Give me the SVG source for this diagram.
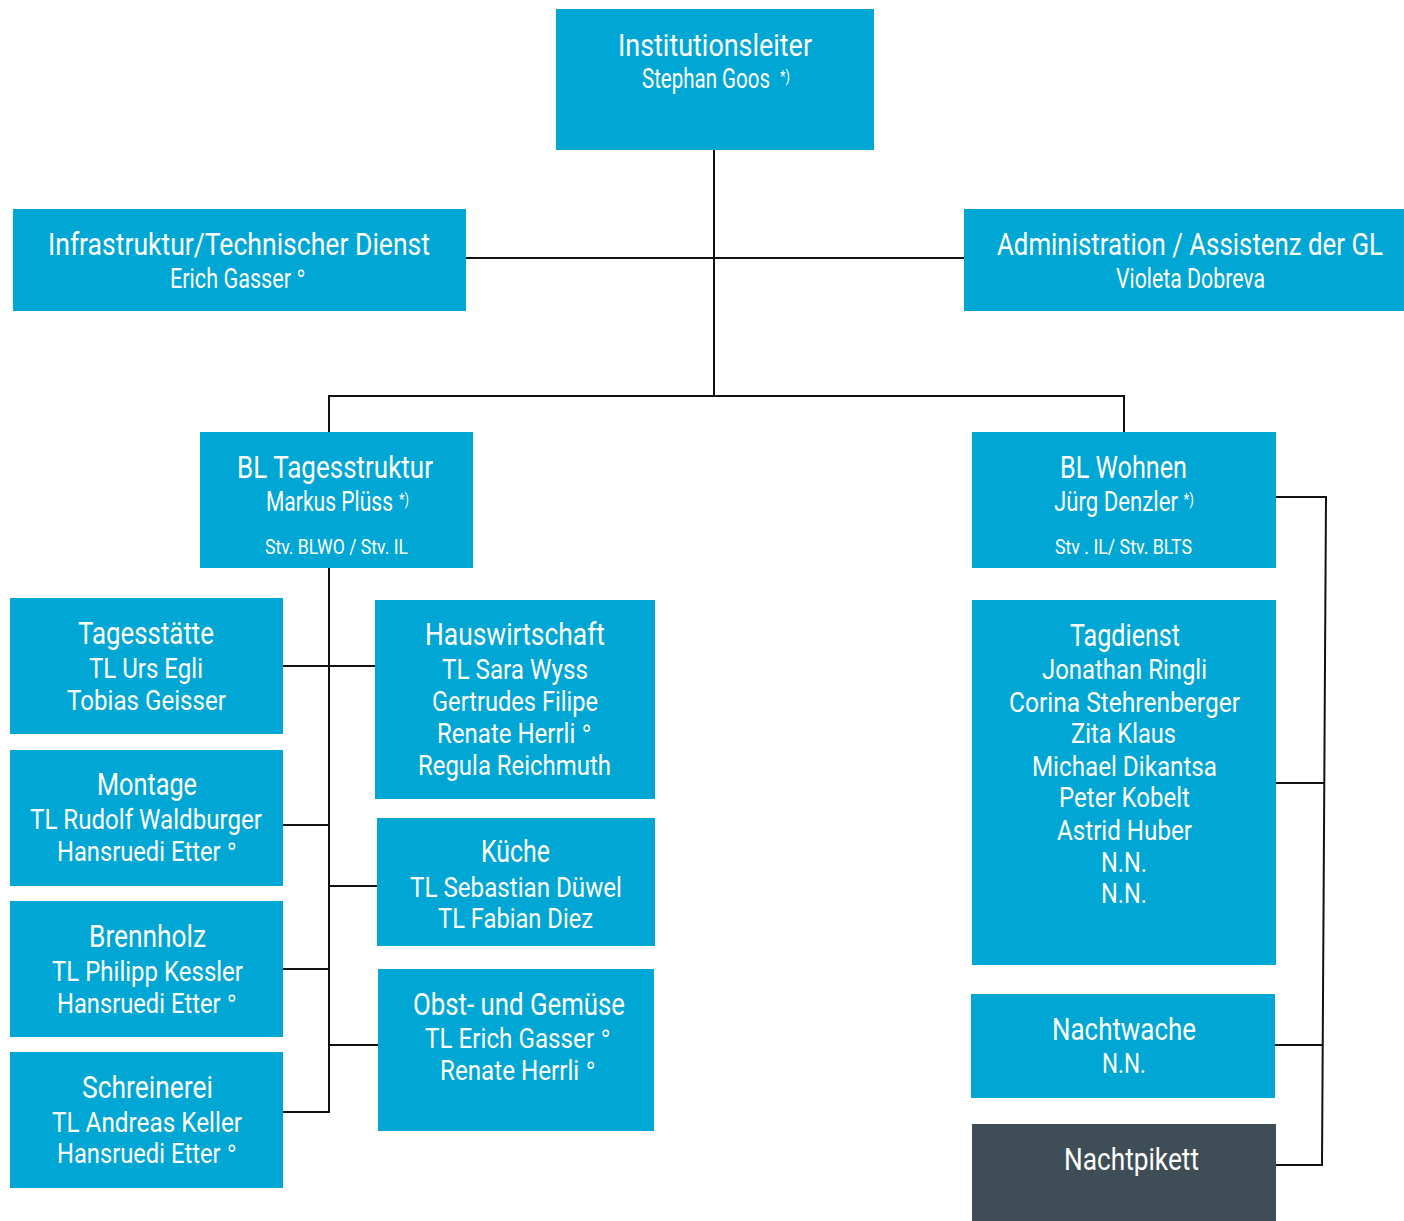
<svg xmlns="http://www.w3.org/2000/svg" width="1404" height="1221" viewBox="0 0 1404 1221">
<style>
.box{fill:#00A7D4}
.dark{fill:#3E4D56}
text{font-family:Roboto,"Liberation Sans",sans-serif;fill:#ffffff;font-weight:normal}
.t{font-size:31px}
.b{font-size:28px}
.s{font-size:21px}
.sup{font-size:17px}
.deg{font-family:"DejaVu Sans",sans-serif;font-size:25px}
.con line,.con polyline{stroke:#111;stroke-width:2;fill:none}
</style>
<g class="con" id="connectors">
<line x1="714" y1="150" x2="714" y2="397"/>
<line x1="466" y1="258" x2="964" y2="258"/>
<polyline points="329,432 329,396 1124,396 1124,432"/>
<line x1="329" y1="568" x2="329" y2="1113"/>
<line x1="283" y1="666" x2="375" y2="666"/>
<line x1="283" y1="825" x2="329" y2="825"/>
<line x1="329" y1="886" x2="377" y2="886"/>
<line x1="283" y1="969" x2="329" y2="969"/>
<line x1="329" y1="1045" x2="378" y2="1045"/>
<line x1="283" y1="1112" x2="330" y2="1112"/>
<polyline points="1276,497 1326,497 1322,1165 1276,1165"/>
<line x1="1274" y1="783" x2="1324" y2="783"/>
<line x1="1275" y1="1045" x2="1323" y2="1045"/>
</g>
<g id="institutionsleiter">
<rect class="box" x="556" y="9" width="318" height="141"/>
<text class="t" transform="translate(618,0) scale(0.8,1)" x="0" y="56" textLength="242.5" lengthAdjust="spacingAndGlyphs">Institutionsleiter</text>
<text class="b" transform="translate(642,0) scale(0.8,1)" x="0" y="88" textLength="160" lengthAdjust="spacingAndGlyphs">Stephan Goos</text>
<text class="sup" transform="translate(780,0) scale(0.8,1)" x="0" y="82" textLength="12.5" lengthAdjust="spacingAndGlyphs">*)</text>
</g>
<g id="infrastruktur">
<rect class="box" x="13" y="209" width="453" height="102"/>
<text class="t" transform="translate(48,0) scale(0.8,1)" x="0" y="255" textLength="477.5" lengthAdjust="spacingAndGlyphs">Infrastruktur/Technischer Dienst</text>
<text class="b" transform="translate(170,0) scale(0.8,1)" x="0" y="288" textLength="151.25" lengthAdjust="spacingAndGlyphs">Erich Gasser</text>
<text class="deg" transform="translate(296,0) scale(0.8,1)" x="0" y="288">°</text>
</g>
<g id="administration">
<rect class="box" x="964" y="209" width="440" height="102"/>
<text class="t" transform="translate(997,0) scale(0.8,1)" x="0" y="255" textLength="482.5" lengthAdjust="spacingAndGlyphs">Administration / Assistenz der GL</text>
<text class="b" transform="translate(1116,0) scale(0.8,1)" x="0" y="288" textLength="186.25" lengthAdjust="spacingAndGlyphs">Violeta Dobreva</text>
</g>
<g id="bl-tagesstruktur">
<rect class="box" x="200" y="432" width="273" height="136"/>
<text class="t" transform="translate(237,0) scale(0.8,1)" x="0" y="478" textLength="245" lengthAdjust="spacingAndGlyphs">BL Tagesstruktur</text>
<text class="b" transform="translate(266,0) scale(0.8,1)" x="0" y="511" textLength="158.75" lengthAdjust="spacingAndGlyphs">Markus Plüss</text>
<text class="sup" transform="translate(399,0) scale(0.8,1)" x="0" y="505" textLength="12.5" lengthAdjust="spacingAndGlyphs">*)</text>
<text class="s" transform="translate(265,0) scale(0.8,1)" x="0" y="554" textLength="178.75" lengthAdjust="spacingAndGlyphs">Stv. BLWO / Stv. IL</text>
</g>
<g id="bl-wohnen">
<rect class="box" x="972" y="432" width="304" height="136"/>
<text class="t" transform="translate(1060,0) scale(0.8,1)" x="0" y="478" textLength="158.75" lengthAdjust="spacingAndGlyphs">BL Wohnen</text>
<text class="b" transform="translate(1054,0) scale(0.8,1)" x="0" y="511" textLength="175" lengthAdjust="spacingAndGlyphs">Jürg Denzler <tspan class="sup" dy="-6">*)</tspan></text>
<text class="s" transform="translate(1055,0) scale(0.8,1)" x="0" y="554" textLength="171.25" lengthAdjust="spacingAndGlyphs">Stv . IL/ Stv. BLTS</text>
</g>
<g id="tagesstaette">
<rect class="box" x="10" y="598" width="273" height="136"/>
<text class="t" transform="translate(78,0) scale(0.8,1)" x="0" y="644" textLength="170" lengthAdjust="spacingAndGlyphs">Tagesstätte</text>
<text class="b" transform="translate(89,0) scale(0.8,1)" x="0" y="678" textLength="142.5" lengthAdjust="spacingAndGlyphs">TL Urs Egli</text>
<text class="b" transform="translate(67,0) scale(0.8,1)" x="0" y="710" textLength="198.75" lengthAdjust="spacingAndGlyphs">Tobias Geisser</text>
</g>
<g id="montage">
<rect class="box" x="10" y="750" width="273" height="136"/>
<text class="t" transform="translate(97,0) scale(0.8,1)" x="0" y="795" textLength="125" lengthAdjust="spacingAndGlyphs">Montage</text>
<text class="b" transform="translate(30,0) scale(0.8,1)" x="0" y="829" textLength="290" lengthAdjust="spacingAndGlyphs">TL Rudolf Waldburger</text>
<text class="b" transform="translate(57,0) scale(0.8,1)" x="0" y="861" textLength="225" lengthAdjust="spacingAndGlyphs">Hansruedi Etter <tspan class="deg">°</tspan></text>
</g>
<g id="brennholz">
<rect class="box" x="10" y="901" width="273" height="136"/>
<text class="t" transform="translate(89,0) scale(0.8,1)" x="0" y="947" textLength="146.25" lengthAdjust="spacingAndGlyphs">Brennholz</text>
<text class="b" transform="translate(52,0) scale(0.8,1)" x="0" y="981" textLength="238.75" lengthAdjust="spacingAndGlyphs">TL Philipp Kessler</text>
<text class="b" transform="translate(57,0) scale(0.8,1)" x="0" y="1013" textLength="225" lengthAdjust="spacingAndGlyphs">Hansruedi Etter <tspan class="deg">°</tspan></text>
</g>
<g id="schreinerei">
<rect class="box" x="10" y="1052" width="273" height="136"/>
<text class="t" transform="translate(82,0) scale(0.8,1)" x="0" y="1098" textLength="163.75" lengthAdjust="spacingAndGlyphs">Schreinerei</text>
<text class="b" transform="translate(52,0) scale(0.8,1)" x="0" y="1132" textLength="237.5" lengthAdjust="spacingAndGlyphs">TL Andreas Keller</text>
<text class="b" transform="translate(57,0) scale(0.8,1)" x="0" y="1163" textLength="225" lengthAdjust="spacingAndGlyphs">Hansruedi Etter <tspan class="deg">°</tspan></text>
</g>
<g id="hauswirtschaft">
<rect class="box" x="375" y="600" width="280" height="199"/>
<text class="t" transform="translate(425,0) scale(0.8,1)" x="0" y="645" textLength="225" lengthAdjust="spacingAndGlyphs">Hauswirtschaft</text>
<text class="b" transform="translate(442,0) scale(0.8,1)" x="0" y="679" textLength="182.5" lengthAdjust="spacingAndGlyphs">TL Sara Wyss</text>
<text class="b" transform="translate(432,0) scale(0.8,1)" x="0" y="711" textLength="207.5" lengthAdjust="spacingAndGlyphs">Gertrudes Filipe</text>
<text class="b" transform="translate(437,0) scale(0.8,1)" x="0" y="743" textLength="193.75" lengthAdjust="spacingAndGlyphs">Renate Herrli <tspan class="deg">°</tspan></text>
<text class="b" transform="translate(418,0) scale(0.8,1)" x="0" y="775" textLength="241.25" lengthAdjust="spacingAndGlyphs">Regula Reichmuth</text>
</g>
<g id="kueche">
<rect class="box" x="377" y="818" width="278" height="128"/>
<text class="t" transform="translate(481,0) scale(0.8,1)" x="0" y="862" textLength="86.25" lengthAdjust="spacingAndGlyphs">Küche</text>
<text class="b" transform="translate(410,0) scale(0.8,1)" x="0" y="897" textLength="265" lengthAdjust="spacingAndGlyphs">TL Sebastian Düwel</text>
<text class="b" transform="translate(438,0) scale(0.8,1)" x="0" y="928" textLength="193.75" lengthAdjust="spacingAndGlyphs">TL Fabian Diez</text>
</g>
<g id="obst-gemuese">
<rect class="box" x="378" y="969" width="276" height="162"/>
<text class="t" transform="translate(413,0) scale(0.8,1)" x="0" y="1015" textLength="265" lengthAdjust="spacingAndGlyphs">Obst- und Gemüse</text>
<text class="b" transform="translate(425,0) scale(0.8,1)" x="0" y="1048" textLength="232.5" lengthAdjust="spacingAndGlyphs">TL Erich Gasser <tspan class="deg">°</tspan></text>
<text class="b" transform="translate(440,0) scale(0.8,1)" x="0" y="1080" textLength="195" lengthAdjust="spacingAndGlyphs">Renate Herrli <tspan class="deg">°</tspan></text>
</g>
<g id="tagdienst">
<rect class="box" x="972" y="600" width="304" height="365"/>
<text class="t" transform="translate(1070,0) scale(0.8,1)" x="0" y="646" textLength="137.5" lengthAdjust="spacingAndGlyphs">Tagdienst</text>
<text class="b" transform="translate(1042,0) scale(0.8,1)" x="0" y="679" textLength="206.25" lengthAdjust="spacingAndGlyphs">Jonathan Ringli</text>
<text class="b" transform="translate(1009,0) scale(0.8,1)" x="0" y="712" textLength="288.75" lengthAdjust="spacingAndGlyphs">Corina Stehrenberger</text>
<text class="b" transform="translate(1071,0) scale(0.8,1)" x="0" y="743" textLength="131.25" lengthAdjust="spacingAndGlyphs">Zita Klaus</text>
<text class="b" transform="translate(1032,0) scale(0.8,1)" x="0" y="776" textLength="231.25" lengthAdjust="spacingAndGlyphs">Michael Dikantsa</text>
<text class="b" transform="translate(1059,0) scale(0.8,1)" x="0" y="807" textLength="163.75" lengthAdjust="spacingAndGlyphs">Peter Kobelt</text>
<text class="b" transform="translate(1057,0) scale(0.8,1)" x="0" y="840" textLength="168.75" lengthAdjust="spacingAndGlyphs">Astrid Huber</text>
<text class="b" transform="translate(1101,0) scale(0.8,1)" x="0" y="872" textLength="57.5" lengthAdjust="spacingAndGlyphs">N.N.</text>
<text class="b" transform="translate(1101,0) scale(0.8,1)" x="0" y="903" textLength="57.5" lengthAdjust="spacingAndGlyphs">N.N.</text>
</g>
<g id="nachtwache">
<rect class="box" x="971" y="994" width="304" height="104"/>
<text class="t" transform="translate(1052,0) scale(0.8,1)" x="0" y="1040" textLength="180" lengthAdjust="spacingAndGlyphs">Nachtwache</text>
<text class="b" transform="translate(1102,0) scale(0.8,1)" x="0" y="1073" textLength="55" lengthAdjust="spacingAndGlyphs">N.N.</text>
</g>
<g id="nachtpikett">
<rect class="dark" x="972" y="1124" width="304" height="97"/>
<text class="t" transform="translate(1064,0) scale(0.8,1)" x="0" y="1170" textLength="168.75" lengthAdjust="spacingAndGlyphs">Nachtpikett</text>
</g>
</svg>
